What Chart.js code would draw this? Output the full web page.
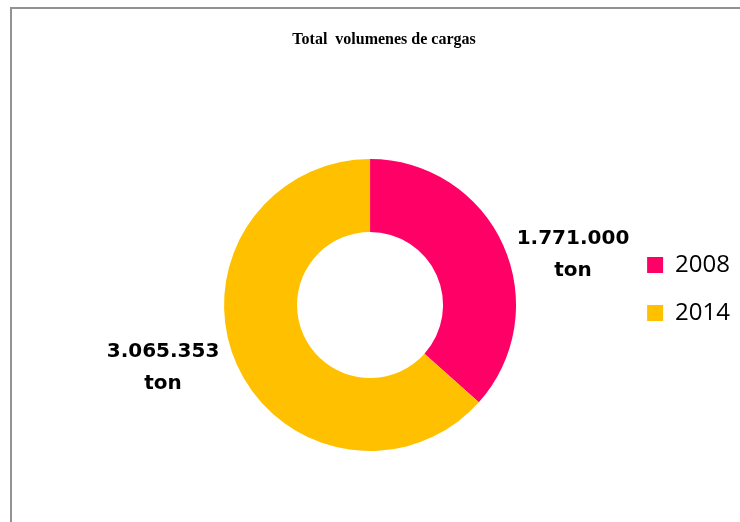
<!DOCTYPE html>
<html>
<head>
<meta charset="utf-8">
<script src="https://cdn.jsdelivr.net/npm/chart.js@4"></script>
<style>
    html, body { margin: 0; padding: 0; background: #ffffff; }
    #container { position: relative; width: 740px; height: 522px; overflow: hidden; }
    #frame { position: absolute; left: 10px; top: 7px; width: 780px; height: 560px;
             border: 2px solid #929292; pointer-events: none; }
</style>
</head>
<body>
<div id="container">
    <canvas id="canvas" width="740" height="522"></canvas>
    <div id="frame"></div>
</div>
<script>
    // datos
    const aLabels = ["2008", "2014"];
    const aVolumen = [1771000, 3065353];
    const sUnidad = "ton";
    const aColors = ["#ff0066", "#ffc000"];

    // miles con punto
    function formatMiles(iValue) {
        return String(iValue).replace(/\B(?=(\d{3})+(?!\d))/g, ".");
    }

    // mueve titulo / leyenda despues del layout
    const nudgePlugin = {
        id: "nudge",
        afterLayout: function (chart, args, opts) {
            ["title", "legend"].forEach(function (sKey) {
                const oBox = chart[sKey === "title" ? "titleBlock" : "legend"];
                const o = opts[sKey];
                if (!oBox || !o) return;
                oBox.left += o.dx || 0;
                oBox.right += o.dx || 0;
                oBox.top += o.dy || 0;
                oBox.bottom += o.dy || 0;
            });
        }
    };

    // etiquetas de valor fuera del anillo
    const valueLabelPlugin = {
        id: "valueLabels",
        afterDatasetsDraw: function (chart, args, opts) {
            const ctx = chart.ctx;
            const oMeta = chart.getDatasetMeta(0);
            ctx.save();
            ctx.font = opts.font;
            ctx.fillStyle = opts.color;
            ctx.textAlign = "center";
            ctx.textBaseline = "middle";
            oMeta.data.forEach(function (oArc, i) {
                const aPos = opts.anchors[i];
                const x = oArc.x + oArc.outerRadius * aPos[0];
                const y = oArc.y + oArc.outerRadius * aPos[1];
                const aLines = [formatMiles(chart.data.datasets[0].data[i]), sUnidad];
                aLines.forEach(function (sLine, j) {
                    ctx.fillText(sLine, x, y + (j - (aLines.length - 1) / 2) * opts.lineHeight);
                });
            });
            ctx.restore();
        }
    };

    const ctx = document.getElementById("canvas").getContext("2d");

    new Chart(ctx, {
        type: "doughnut",
        data: {
            labels: aLabels,
            datasets: [{
                data: aVolumen,
                backgroundColor: aColors,
                borderWidth: 0,
                hoverOffset: 0,
                offset: 0
            }]
        },
        options: {
            responsive: false,
            animation: false,
            cutout: "50%",
            rotation: 0,
            layout: {
                padding: { left: 117, right: 0, top: 0, bottom: 71 }
            },
            plugins: {
                title: {
                    display: true,
                    text: "Total  volumenes de cargas",
                    fullSize: false,
                    color: "#000000",
                    font: { family: "'Liberation Serif', 'Times New Roman', serif", size: 16, weight: "bold", lineHeight: 1.2 },
                    padding: { top: 30, bottom: 109.8 }
                },
                legend: {
                    display: true,
                    position: "right",
                    fullSize: false,
                    labels: {
                        boxWidth: 16,
                        boxHeight: 16,
                        padding: 24,
                        color: "#000000",
                        font: { family: "'Open Sans', sans-serif", size: 24 }
                    }
                },
                tooltip: { enabled: false },
                nudge: {
                    title: { dx: 14, dy: 0 },
                    legend: { dx: 0, dy: -16 }
                },
                valueLabels: {
                    font: "bold 20px 'DejaVu Sans', sans-serif",
                    color: "#000000",
                    lineHeight: 32,
                    anchors: [[1.39, -0.342], [-1.418, 0.428]]
                }
            }
        },
        plugins: [nudgePlugin, valueLabelPlugin]
    });
</script>
</body>
</html>
